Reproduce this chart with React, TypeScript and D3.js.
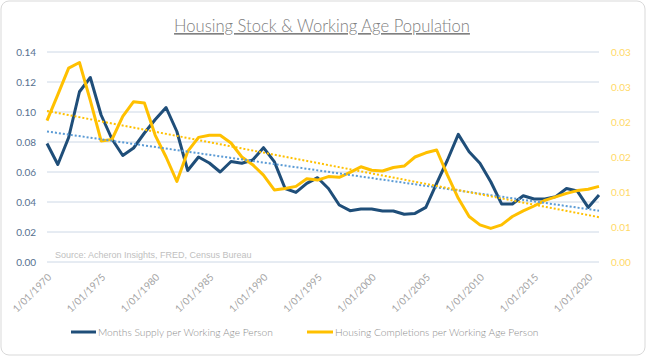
import React from "react";
import * as d3 from "d3";

const years: number[] = [
  1970, 1971, 1972, 1973, 1974, 1975, 1976, 1977, 1978, 1979,
  1980, 1981, 1982, 1983, 1984, 1985, 1986, 1987, 1988, 1989,
  1990, 1991, 1992, 1993, 1994, 1995, 1996, 1997, 1998, 1999,
  2000, 2001, 2002, 2003, 2004, 2005, 2006, 2007, 2008, 2009,
  2010, 2011, 2012, 2013, 2014, 2015, 2016, 2017, 2018, 2019,
  2020, 2021,
];

const monthsSupply: number[] = [
  0.079, 0.065, 0.083, 0.1135, 0.123, 0.098, 0.082, 0.071, 0.076, 0.086,
  0.095, 0.103, 0.087, 0.061, 0.070, 0.066, 0.060, 0.067, 0.0658, 0.068,
  0.0762, 0.0669, 0.049, 0.0464, 0.0524, 0.0562, 0.049, 0.038, 0.0342, 0.0353,
  0.0353, 0.034, 0.034, 0.0318, 0.0324, 0.0364, 0.0524, 0.068, 0.0851, 0.0735,
  0.0658, 0.0535, 0.0387, 0.0387, 0.0442, 0.042, 0.042, 0.0436, 0.049, 0.0473,
  0.0364, 0.0447,
];

const completions: number[] = [
  0.0202, 0.0239, 0.0277, 0.0285, 0.0231, 0.0173, 0.0175, 0.0208, 0.0229, 0.0227,
  0.0181, 0.015, 0.0115, 0.0158, 0.0178, 0.0181, 0.0181, 0.017, 0.015, 0.0139,
  0.0124, 0.0103, 0.0105, 0.0108, 0.0119, 0.0117, 0.0122, 0.0121, 0.0128, 0.0136,
  0.0131, 0.013, 0.0135, 0.0137, 0.015, 0.0156, 0.016, 0.0124, 0.0091, 0.0065,
  0.0053, 0.0048, 0.0053, 0.0065, 0.0073, 0.008, 0.0088, 0.0093, 0.0098, 0.0102,
  0.0104, 0.0108,
];

const leftTicks: number[] = [0, 0.02, 0.04, 0.06, 0.08, 0.1, 0.12, 0.14];
const rightTicks: number[] = [0, 0.005, 0.01, 0.015, 0.02, 0.025, 0.03];
const xTickYears: number[] = [1970, 1975, 1980, 1985, 1990, 1995, 2000, 2005, 2010, 2015, 2020];

const title = "Housing Stock & Working Age Population";
const sourceText = "Source: Acheron Insights, FRED, Census Bureau";
const seriesNames = ["Months Supply per Working Age Person", "Housing Completions per Working Age Person"];

const W = 646;
const H = 356;
const plot = { left: 47, right: 599, top: 52, bottom: 262 };

function linReg(xs: number[], ys: number[]) {
  const n = xs.length;
  const mx = d3.mean(xs) as number;
  const my = d3.mean(ys) as number;
  let num = 0;
  let den = 0;
  for (let i = 0; i < n; i++) {
    num += (xs[i] - mx) * (ys[i] - my);
    den += (xs[i] - mx) * (xs[i] - mx);
  }
  const b = num / den;
  const a = my - b * mx;
  return (x: number) => a + b * x;
}

export default function App() {
  const x = d3.scaleLinear().domain([1970, 2021]).range([plot.left, plot.right]);
  const yL = d3.scaleLinear().domain([0, 0.14]).range([plot.bottom, plot.top]);
  const yR = d3.scaleLinear().domain([0, 0.03]).range([plot.bottom, plot.top]);

  const blueLine = d3
    .line<number>()
    .x((_, i) => x(years[i]))
    .y((d) => yL(d));
  const yellowLine = d3
    .line<number>()
    .x((_, i) => x(years[i]))
    .y((d) => yR(d));

  const blueTrend = linReg(years, monthsSupply);
  const yellowTrend = linReg(years, completions);
  const x0 = years[0];
  const x1 = years[years.length - 1];

  const blue = "#1f4e79";
  const yellow = "#ffc000";
  const grid = "#cdd8e6";
  const font = "Lato, 'Open Sans', sans-serif";

  return (
    <svg
      width={W}
      height={H}
      style={{ position: "absolute", left: 0, top: 0, background: "#fff" }}
    >
      <rect x={1} y={1} width={W - 2} height={H - 2} rx={8} ry={8} fill="#fff" stroke="#d9d9d9" strokeWidth={1} />
      <text
        x={322}
        y={32}
        textAnchor="middle"
        fontFamily={font}
        fontWeight={300}
        fontSize={16.6}
        fill="#808080"
        textDecoration="underline"
      >
        {title}
      </text>

      {leftTicks.map((t) => (
        <line key={"g" + t} x1={plot.left} x2={plot.right} y1={yL(t)} y2={yL(t)} stroke={grid} strokeWidth={1} />
      ))}
      {leftTicks.map((t) => (
        <text key={"l" + t} x={36} y={yL(t) + 3.5} textAnchor="end" fontFamily={font} fontSize={10} fill="#56708f">
          {t.toFixed(2)}
        </text>
      ))}
      {rightTicks.map((t) => (
        <text key={"r" + t} x={611} y={yR(t) + 3.5} textAnchor="start" fontFamily={font} fontSize={10} fill="#ffd966">
          {(Math.round(t * 100 + 1e-9) / 100).toFixed(2)}
        </text>
      ))}
      {xTickYears.map((yr) => (
        <text
          key={"x" + yr}
          transform={`translate(${x(yr) + 5},${plot.bottom + 16}) rotate(-45)`}
          textAnchor="end"
          fontFamily={font}
          fontSize={10}
          fill="#a3a3a3"
        >
          {`1/01/${yr}`}
        </text>
      ))}

      <text x={55} y={258} fontFamily="'Liberation Sans', Arial, sans-serif" fontSize={9} fill="#c0c0c0">
        {sourceText}
      </text>

      <path d={blueLine(monthsSupply) || ""} fill="none" stroke={blue} strokeWidth={3} strokeLinejoin="round" />
      <path d={yellowLine(completions) || ""} fill="none" stroke={yellow} strokeWidth={3} strokeLinejoin="round" />

      <line
        x1={x(x0)}
        x2={x(x1)}
        y1={yL(blueTrend(x0))}
        y2={yL(blueTrend(x1))}
        stroke="#5b9bd5"
        strokeWidth={2}
        strokeDasharray="2 2"
      />
      <line
        x1={x(x0)}
        x2={x(x1)}
        y1={yR(yellowTrend(x0))}
        y2={yR(yellowTrend(x1))}
        stroke={yellow}
        strokeWidth={2}
        strokeDasharray="2 2"
      />

      <line x1={71} x2={96} y1={332} y2={332} stroke={blue} strokeWidth={3} />
      <text x={98} y={336} fontFamily={font} fontWeight={300} fontSize={10.2} fill="#8c8c8c">
        {seriesNames[0]}
      </text>
      <line x1={307} x2={333} y1={332} y2={332} stroke={yellow} strokeWidth={3} />
      <text x={335} y={336} fontFamily={font} fontWeight={300} fontSize={10.2} fill="#8c8c8c">
        {seriesNames[1]}
      </text>
    </svg>
  );
}
